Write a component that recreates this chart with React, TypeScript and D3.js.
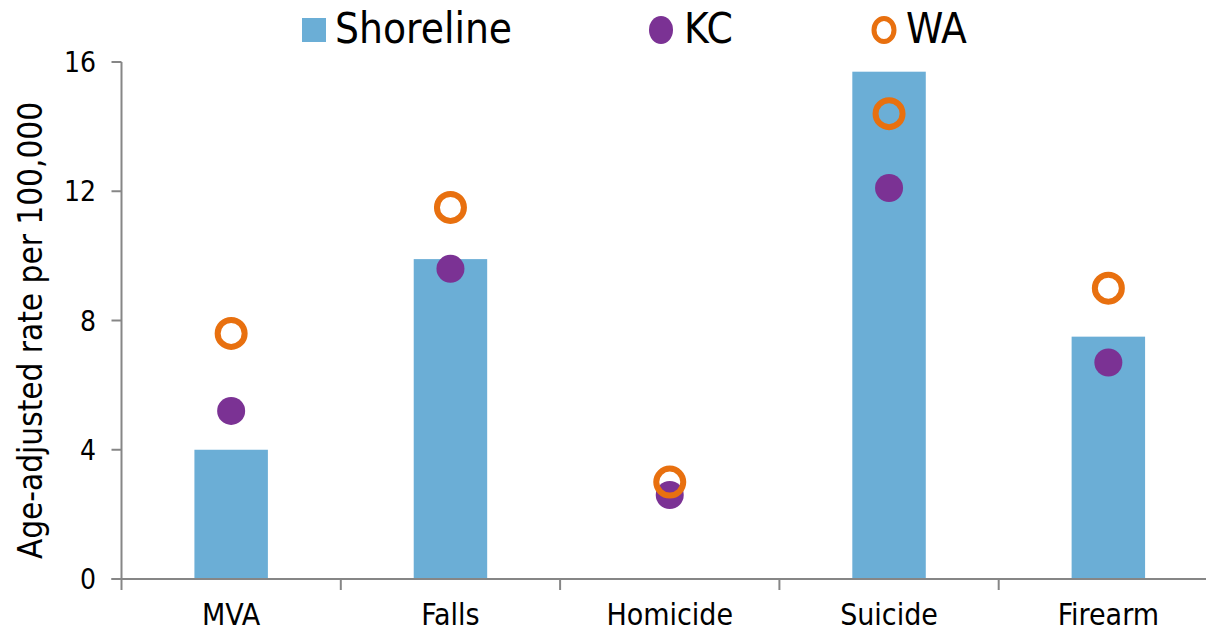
import * as d3 from 'd3';

const categories = ['MVA', 'Falls', 'Homicide', 'Suicide', 'Firearm'];
const shoreline: (number | null)[] = [4.0, 9.9, null, 15.7, 7.5];
const kc = [5.2, 9.6, 2.6, 12.1, 6.7];
const wa = [7.6, 11.5, 3.0, 14.4, 9.0];
const yTicks = [0, 4, 8, 12, 16];

const W = 1206;
const H = 634;
const FONT = '"DejaVu Sans Condensed", "Liberation Sans Narrow", "DejaVu Sans", sans-serif';

const BAR = '#6baed6';
const PURPLE = '#7b3294';
const ORANGE = '#e8700f';
const AXIS = '#868686';

export default function App() {
  const x = d3.scaleBand<string>().domain(categories).range([121.5, 1218]).padding(0);
  const y = d3.scaleLinear().domain([0, 16]).range([579, 62]);
  const bw = x.bandwidth();
  const barW = bw * 0.335;
  const cx = (c: string) => (x(c) ?? 0) + bw / 2;
  const x0 = 121.5;

  return (
    <svg width={W} height={H} style={{ position: 'absolute', left: 0, top: 0 }} fontFamily={FONT}>
      <rect width={W} height={H} fill="#fff" />

      {/* bars */}
      {categories.map((c, i) =>
        shoreline[i] == null ? null : (
          <rect key={c} x={cx(c) - barW / 2} y={y(shoreline[i] as number)} width={barW}
            height={y(0) - y(shoreline[i] as number)} fill={BAR} />
        )
      )}

      {/* y axis */}
      <line x1={x0} x2={x0} y1={y(16)} y2={y(0)} stroke={AXIS} strokeWidth={2} />
      {yTicks.map(t => (
        <g key={t}>
          <line x1={x0 - 10} x2={x0} y1={y(t)} y2={y(t)} stroke={AXIS} strokeWidth={2} />
          <text x={96} y={y(t)} dy="0.36em" textAnchor="end" fontSize={28} fill="#000">{t}</text>
        </g>
      ))}
      <text transform={`translate(42,${(y(0) + y(16)) / 2 + 10}) rotate(-90)`} textAnchor="middle"
        fontSize={33} fill="#000">Age-adjusted rate per 100,000</text>

      {/* x axis */}
      <line x1={x0 - 10} x2={W} y1={y(0)} y2={y(0)} stroke={AXIS} strokeWidth={2} />
      {categories.map(c => (
        <line key={c} x1={(x(c) ?? 0)} x2={(x(c) ?? 0)} y1={y(0)} y2={y(0) + 11}
          stroke={AXIS} strokeWidth={2} />
      ))}
      {categories.map(c => (
        <text key={c} x={cx(c)} y={625} textAnchor="middle" fontSize={30} fill="#000">{c}</text>
      ))}

      {/* points */}
      {categories.map((c, i) => (
        <circle key={'kc' + c} cx={cx(c)} cy={y(kc[i])} r={14} fill={PURPLE} />
      ))}
      {categories.map((c, i) => (
        <circle key={'wa' + c} cx={cx(c)} cy={y(wa[i])} r={13.5} fill="none" stroke={ORANGE} strokeWidth={6} />
      ))}

      {/* legend */}
      <rect x={302} y={18} width={24} height={24} fill={BAR} />
      <text x={335} y={43} fontSize={42} fill="#000">Shoreline</text>
      <ellipse cx={661} cy={30} rx={12} ry={14} fill={PURPLE} />
      <text x={684} y={43} fontSize={42} fill="#000">KC</text>
      <ellipse cx={884} cy={30} rx={10} ry={11.5} fill="none" stroke={ORANGE} strokeWidth={5} />
      <text x={906} y={43} fontSize={42} fill="#000">WA</text>
    </svg>
  );
}
